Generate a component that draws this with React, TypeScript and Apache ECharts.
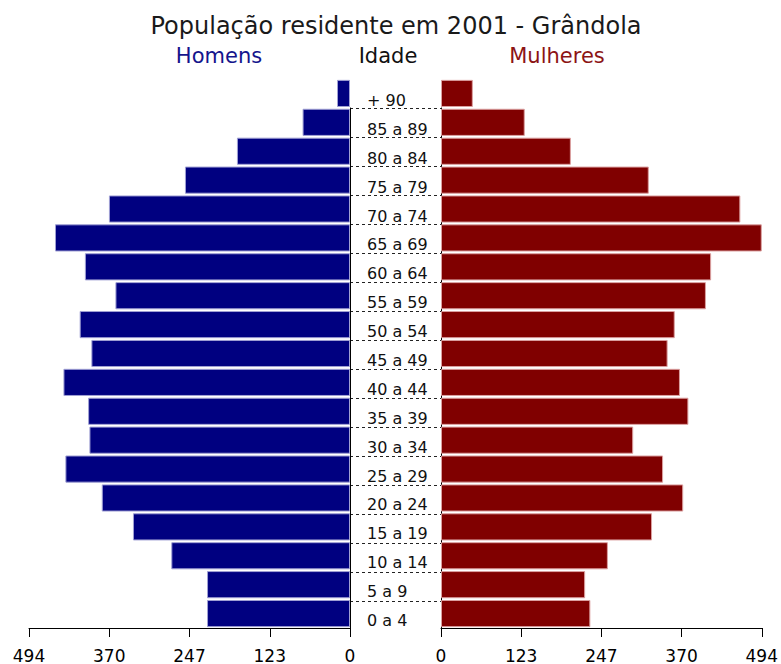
import React, { useEffect, useRef } from "react";
import * as echarts from "echarts";

const ageGroups = [
  "0 a 4", "5 a 9", "10 a 14", "15 a 19", "20 a 24", "25 a 29", "30 a 34",
  "35 a 39", "40 a 44", "45 a 49", "50 a 54", "55 a 59", "60 a 64", "65 a 69",
  "70 a 74", "75 a 79", "80 a 84", "85 a 89", "+ 90",
];
const homens = [220, 220, 275, 334, 382, 438, 401, 403, 441, 398, 416, 361, 408, 454, 371, 254, 174, 73, 20];
const mulheres = [230, 222, 257, 325, 373, 342, 296, 381, 368, 349, 360, 408, 416, 494, 461, 320, 200, 129, 49];
const axisMax = 494;
const axisStep = 123.5;

const titleText = "População residente em 2001 - Grândola";
const headerLabels = ["Homens", "Idade", "Mulheres"];

const FONT = "DejaVu Sans";

export default function App() {
  const ref = useRef<HTMLDivElement>(null);
  useEffect(() => {
    document.body.style.margin = "0";
    const chart = echarts.init(ref.current!, undefined, { renderer: "svg" });
    const valueAxis = (gridIndex: number, inverse: boolean) => ({
      type: "value",
      gridIndex,
      inverse,
      min: 0,
      max: axisMax,
      interval: axisStep,
      axisLine: { show: true, lineStyle: { color: "#000", width: 1 } },
      axisTick: { show: true, length: 9, lineStyle: { color: "#000", width: 1 } },
      splitLine: { show: false },
      axisLabel: {
        margin: 19,
        fontFamily: FONT,
        fontSize: 17,
        color: "#000",
        formatter: (v: number) => String(Math.floor(v)),
      },
    });
    chart.setOption({
      animation: false,
      backgroundColor: "#fff",
      grid: [
        { left: 29, width: 321, top: 79, height: 551 },
        { left: 441, width: 321, top: 79, height: 551 },
        { left: 350, width: 91, top: 108, height: 522 },
      ],
      xAxis: [
        valueAxis(0, true),
        valueAxis(1, false),
        { type: "value", gridIndex: 2, show: false, min: 0, max: 1 },
      ],
      yAxis: [
        {
          type: "category",
          gridIndex: 0,
          data: ageGroups,
          position: "right",
          axisLine: { show: false },
          axisTick: { show: false },
          axisLabel: {
            interval: 0,
            margin: 17,
            align: "left",
            verticalAlign: "top",
            lineHeight: 14,
            fontFamily: FONT,
            fontSize: 16,
            color: "#111",
          },
        },
        {
          type: "category",
          gridIndex: 1,
          data: ageGroups,
          axisLine: { show: false },
          axisTick: { show: false },
          axisLabel: { show: false },
        },
        {
          type: "value",
          gridIndex: 2,
          position: "left",
          min: 0,
          max: ageGroups.length - 1,
          interval: 1,
          axisLine: { show: true, lineStyle: { color: "#000", width: 1 } },
          axisTick: { show: false },
          axisLabel: { show: false },
          splitLine: {
            show: true,
            showMinLine: false,
            lineStyle: { color: "#222", width: 1, type: [3, 3] },
          },
        },
        {
          type: "value",
          gridIndex: 2,
          position: "right",
          min: 0,
          max: ageGroups.length - 1,
          interval: 1,
          axisLine: { show: true, lineStyle: { color: "#000", width: 1 } },
          axisTick: { show: false },
          axisLabel: { show: false },
          splitLine: { show: false },
        },
      ],
      series: [
        {
          type: "bar",
          name: "Homens",
          xAxisIndex: 0,
          yAxisIndex: 0,
          data: homens,
          barCategoryGap: "6%",
          itemStyle: { color: "#000080", borderColor: "#a0a0d4", borderWidth: 1 },
        },
        {
          type: "bar",
          name: "Mulheres",
          xAxisIndex: 1,
          yAxisIndex: 1,
          data: mulheres,
          barCategoryGap: "6%",
          itemStyle: { color: "#800000", borderColor: "#dba0a0", borderWidth: 1 },
        },
      ],
      graphic: [
        {
          type: "text",
          x: 396,
          y: 26,
          style: {
            text: titleText,
            font: `24px "${FONT}"`,
            fill: "#1a1a1a",
            textAlign: "center",
            textVerticalAlign: "middle",
          },
        },
        {
          type: "text",
          x: 219,
          y: 56,
          style: {
            text: headerLabels[0],
            font: `21px "${FONT}"`,
            fill: "#14148c",
            textAlign: "center",
            textVerticalAlign: "middle",
          },
        },
        {
          type: "text",
          x: 388,
          y: 56,
          style: {
            text: headerLabels[1],
            font: `21px "${FONT}"`,
            fill: "#111",
            textAlign: "center",
            textVerticalAlign: "middle",
          },
        },
        {
          type: "text",
          x: 557,
          y: 56,
          style: {
            text: headerLabels[2],
            font: `21px "${FONT}"`,
            fill: "#8c1414",
            textAlign: "center",
            textVerticalAlign: "middle",
          },
        },
      ],
    });
    return () => chart.dispose();
  }, []);
  return <div ref={ref} style={{ width: 781, height: 664 }} />;
}
